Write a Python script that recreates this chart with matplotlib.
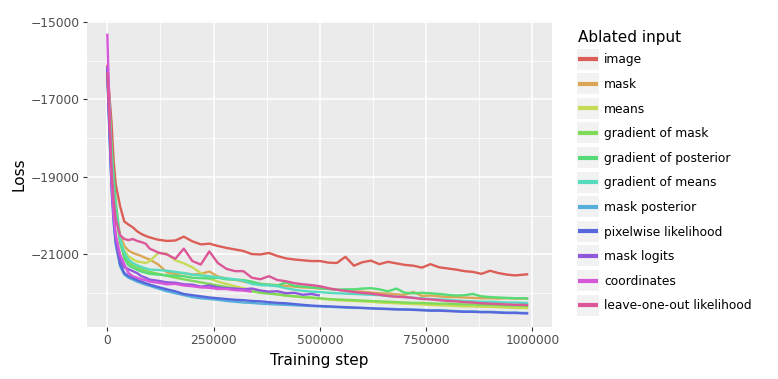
import matplotlib
matplotlib.use('Agg')
import matplotlib.pyplot as plt
from matplotlib.patches import Rectangle

nan = float('nan')

# training steps at which the loss was logged
steps = [0, 5000, 10000, 15000, 20000, 30000, 40000, 50000, 60000, 70000, 80000, 90000, 100000,
         120000, 140000, 160000, 180000, 200000, 220000, 240000, 260000, 280000, 300000,
         320000, 340000, 360000, 380000, 400000, 420000, 440000, 460000, 480000, 500000,
         520000, 540000, 560000, 580000, 600000, 620000, 640000, 660000, 680000, 700000,
         720000, 740000, 760000, 780000, 800000, 820000, 840000, 860000, 880000, 900000,
         920000, 940000, 960000, 980000, 990000]

image = [-16100, -16900, -17600, -18600, -19200, -19750, -20150, -20230, -20300, -20400, -20470, -20520, -20560,
         -20620, -20650, -20640, -20540, -20660, -20740, -20720, -20780, -20830, -20870,
         -20910, -20990, -21000, -20960, -21040, -21100, -21130, -21150, -21170, -21170,
         -21210, -21220, -21060, -21290, -21200, -21160, -21250, -21190, -21230, -21270,
         -21290, -21340, -21250, -21330, -21360, -21390, -21430, -21450, -21500, -21420,
         -21480, -21520, -21540, -21520, -21510]

mask = [-16200, -17200, -18300, -19200, -19800, -20500, -20780, -20900, -20960, -21000, -21040, -21090, -21130,
        -21260, -21460, -21500, -21480, -21520, -21500, -21440, -21570, -21620, -21650,
        -21700, -21740, -21760, -21780, -21790, -21810, -21830, -21850, -21860, -21880,
        -21890, -21910, -21930, -21950, -21960, -21980, -22000, -22010, -22030, -22040,
        -21970, -22070, -22060, -22080, -22100, -22100, -22110, -22120, -22130, -22130,
        -22140, -22130, -22140, -22140, -22140]

means = [-16200, -17300, -18400, -19300, -19900, -20600, -20900, -21050, -21120, -21180, -21200, -21220, -21170,
         -20960, -20980, -21150, -21230, -21330, -21480, -21620, -21700, -21760, -21820,
         -21870, -21920, -21960, -22000, -22030, -22060, -22080, -22100, -22120, -22140,
         -22160, -22180, -22190, -22200, -22210, -22220, -22240, -22250, -22260, -22270,
         -22280, -22290, -22300, -22310, -22320, -22330, -22340, -22340, -22350, -22350,
         -22360, -22370, -22380, -22380, -22390]

grad_mask = [-16250, -17300, -18400, -19300, -19900, -20700, -21050, -21200, -21280, -21330, -21380, -21420, -21450,
             -21500, -21550, -21600, -21640, -21680, -21720, -21760, -21800, -21840, -21880,
             -21920, -21950, -21990, -22010, -22030, -22060, -22080, -22100, -22110, -22130,
             -22150, -22160, -22170, -22180, -22190, -22200, -22210, -22220, -22230, -22240,
             -22250, -22250, -22260, -22270, -22270, -22280, -22290, -22290, -22300, -22300,
             -22310, -22320, -22320, -22330, -22330]

grad_posterior = [-16250, -17100, -18200, -19000, -19650, -20600, -21100, -21280, -21340, -21390, -21440, -21470, -21500,
                  -21520, -21540, -21550, -21560, -21600, -21610, -21620, -21600, -21640, -21650,
                  -21660, -21700, -21760, -21780, -21800, -21720, -21810, -21830, -21850, -21870,
                  -21890, -21910, -21900, -21900, -21880, -21870, -21900, -21950, -21880, -21990,
                  -22000, -21990, -22000, -22020, -22040, -22060, -22050, -22020, -22080, -22100,
                  -22110, -22120, -22130, -22130, -22140]

grad_means = [-16300, -17400, -18500, -19300, -19900, -20600, -20950, -21130, -21220, -21280, -21320, -21360, -21390,
              -21400, -21420, -21450, -21480, -21520, -21540, -21560, -21590, -21620, -21640,
              -21680, -21760, -21790, -21800, -21820, -21870, -21910, -21940, -21960, -21970,
              -21990, -22000, -22010, -22020, -22030, -22040, -22050, -22070, -22090, -22100,
              -22120, -22130, -22150, -22160, -22170, -22190, -22200, -22210, -22220, -22220,
              -22230, -22240, -22240, -22250, -22250]

mask_posterior = [-16300, -17900, -19300, -20200, -20750, -21300, -21520, -21600, -21650, -21700, -21740, -21780, -21810,
                  -21880, -21950, -22000, -22050, -22100, -22130, -22150, -22170, -22200, -22220,
                  -22240, -22250, -22270, -22280, -22290, -22300, -22310, -22320, -22330, -22340,
                  -22350, -22360, -22370, -22380, -22380, -22390, -22400, -22400, -22410, -22420,
                  -22420, -22430, -22440, -22440, -22450, -22460, -22470, -22470, -22480, -22480,
                  -22490, -22500, -22500, -22510, -22510]

pixelwise = [-16200, -17800, -19200, -20100, -20700, -21250, -21480, -21560, -21610, -21660, -21700, -21740, -21780,
             -21840, -21900, -21950, -22020, -22050, -22080, -22110, -22130, -22150, -22170,
             -22180, -22200, -22210, -22230, -22250, -22260, -22280, -22300, -22320, -22330,
             -22340, -22350, -22360, -22370, -22380, -22390, -22400, -22410, -22420, -22420,
             -22430, -22440, -22450, -22450, -22460, -22470, -22480, -22480, -22490, -22490,
             -22500, -22510, -22510, -22520, -22520]

# these two runs stopped early
mask_logits = [-16150, -17700, -19000, -20000, -20600, -21150, -21330, -21380, -21430, -21480, -21560, -21600, -21650,
               -21680, -21720, -21730, -21770, -21780, -21830, -21800, -21850, -21870, -21880,
               -21900, -21880, -21930, -21960, -21950, -22000, -21990, -22040, -22020, -22060,
               nan, nan, nan, nan, nan, nan, nan, nan, nan, nan,
               nan, nan, nan, nan, nan, nan, nan, nan, nan, nan,
               nan, nan, nan, nan, nan]

coordinates = [-15300, -17200, -19100, -20000, -20500, -21000, -21250, -21480, -21560, -21600, -21640, -21660, -21700,
               -21730, -21770, -21760, -21800, -21820, -21850, -21860, -21890, -21890, -21920,
               -21930, -21960, nan, nan, nan, nan, nan, nan, nan, nan,
               nan, nan, nan, nan, nan, nan, nan, nan, nan, nan,
               nan, nan, nan, nan, nan, nan, nan, nan, nan, nan,
               nan, nan, nan, nan, nan]

leave_one_out = [-16300, -17500, -18800, -19600, -20100, -20500, -20600, -20630, -20600, -20650, -20680, -20720, -20850,
                 -20950, -21000, -21110, -20850, -21170, -21260, -20920, -21220, -21370, -21430,
                 -21430, -21600, -21640, -21560, -21660, -21690, -21740, -21770, -21790, -21820,
                 -21870, -21910, -21940, -21970, -21990, -22010, -22040, -22070, -22090, -22100,
                 -22120, -22150, -22160, -22180, -22200, -22210, -22230, -22240, -22260, -22270,
                 -22280, -22290, -22300, -22300, -22310]

labels = ['image', 'mask', 'means', 'gradient of mask', 'gradient of posterior',
          'gradient of means', 'mask posterior', 'pixelwise likelihood', 'mask logits',
          'coordinates', 'leave-one-out likelihood']
series = [image, mask, means, grad_mask, grad_posterior, grad_means,
          mask_posterior, pixelwise, mask_logits, coordinates, leave_one_out]
colors = ['#db5f57', '#dba757', '#c7db57', '#7fdb57', '#57db77', '#57dbbf',
          '#57afdb', '#5767db', '#8f57db', '#d757db', '#db5797']

fig = plt.figure(figsize=(7.78, 3.79), dpi=100)
ax = fig.add_axes([87 / 778, 1 - 327 / 379, 465 / 778, 306 / 379])

for vals, lab, col in zip(series, labels, colors):
    ax.plot(steps, vals, color=col, lw=1.7, label=lab, solid_capstyle='butt')

ax.set_xlim(-47700, 1045900)
ax.set_ylim(-22872, -14974)
ax.set_xticks([0, 250000, 500000, 750000, 1000000])
ax.set_xticks([125000, 375000, 625000, 875000], minor=True)
ax.set_yticks([-15000, -17000, -19000, -21000])
ax.set_yticks([-16000, -18000, -20000, -22000], minor=True)
ax.ticklabel_format(style='plain', useOffset=False)

ax.set_facecolor('#ebebeb')
ax.set_axisbelow(True)
ax.grid(which='major', color='white', lw=1.1)
ax.grid(which='minor', color='white', lw=0.55)
for s in ax.spines.values():
    s.set_visible(False)
ax.tick_params(which='major', length=3, width=0.8, color='#333333',
               labelcolor='#4d4d4d', labelsize=8.8, pad=2)
ax.tick_params(which='minor', length=0)

ax.set_xlabel('Training step', fontsize=11, labelpad=4)
ax.set_ylabel('Loss', fontsize=11, labelpad=3)

leg = ax.legend(title='Ablated input', loc='upper left',
                bbox_to_anchor=(578 / 778, 1 - 30 / 379), bbox_transform=fig.transFigure,
                frameon=False, fontsize=8.8, title_fontsize=11, handlelength=1.6,
                handletextpad=0.55, labelspacing=0.95, borderaxespad=0, borderpad=0,
                alignment='left')
leg._legend_box.sep = 6.0
for line in leg.get_lines():
    line.set_linewidth(3)

# grey key backgrounds like ggplot
fig.canvas.draw()
for line in leg.get_lines():
    bb = line.get_window_extent()
    yc = (bb.y0 + bb.y1) / 2
    rect = Rectangle((bb.x0 - 1, yc - 10.5), bb.width + 2, 21, transform=None,
                     facecolor='#f2f2f2', edgecolor='none', zorder=-1)
    fig.patches.append(rect)

fig.savefig('out.png', dpi=100)
